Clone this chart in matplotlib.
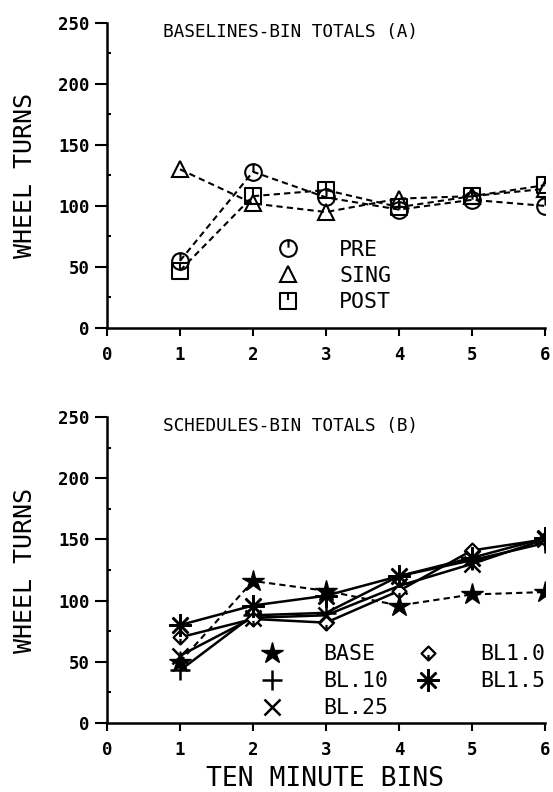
import matplotlib
matplotlib.use('Agg')
import matplotlib.pyplot as plt
from matplotlib.lines import Line2D
from matplotlib.path import Path

# bins
bins = [1, 2, 3, 4, 5, 6]

# panel A - baselines
pre = [55, 128, 107, 97, 105, 100]
sing = [130, 102, 95, 106, 108, 114]
post = [47, 108, 113, 99, 108, 117]

# panel B - schedules
base = [50, 116, 108, 96, 105, 107]
bl10 = [43, 88, 90, 120, 133, 147]
bl25 = [55, 86, 88, 112, 130, 150]
bl10x = [70, 85, 82, 108, 141, 150]
bl15 = [80, 96, 104, 120, 135, 151]

yticks = [0, 50, 100, 150, 200, 250]
xticks = [0, 1, 2, 3, 4, 5, 6]

plt.rcParams['font.family'] = ['DejaVu Sans Mono']

#markers with the little stroke inside, like the plotter symbols
tick_up = Path([[0, 1], [0, 0.1]], [Path.MOVETO, Path.LINETO])
circ = Path.make_compound_path(Path.unit_circle(), tick_up)
sq = Path.make_compound_path(Path.unit_rectangle().transformed(
    matplotlib.transforms.Affine2D().translate(-0.5, -0.5).scale(2)), tick_up)
diam = Path.make_compound_path(
    Path([[0, 1], [1, 0], [0, -1], [-1, 0], [0, 1]],
         [Path.MOVETO, Path.LINETO, Path.LINETO, Path.LINETO, Path.CLOSEPOLY]),
    Path([[0, -1], [0, -0.2]], [Path.MOVETO, Path.LINETO]))
asterisk = (8, 2, 0)

fig = plt.figure(figsize=(5.53, 7.92), dpi=100)
ax1 = fig.add_axes([0.1935, 0.586, 0.792, 0.385])
ax2 = fig.add_axes([0.1935, 0.0871, 0.792, 0.3864])


def style(ax, title):
    ax.set_xlim(0, 6)
    ax.set_ylim(0, 250)
    ax.spines['top'].set_visible(False)
    ax.spines['right'].set_visible(False)
    ax.spines['left'].set_linewidth(1.8)
    ax.spines['bottom'].set_linewidth(1.8)
    ax.set_xticks(xticks)
    ax.set_yticks(yticks)
    ax.set_yticks([25, 75, 125, 175, 225], minor=True)
    ax.tick_params(axis='x', direction='out', length=6, width=1.5, labelsize=12.5, pad=7)
    ax.tick_params(axis='y', which='major', direction='out', length=8.5, width=1.5,
                   labelsize=12.5, pad=4)
    ax.tick_params(axis='y', which='minor', direction='in', length=3, width=1.5)
    for t in ax.get_xticklabels() + ax.get_yticklabels():
        t.set_fontweight('bold')
    ax.set_ylabel('WHEEL TURNS', fontsize=18)
    ax.yaxis.set_label_coords(-0.16, 0.5)
    ax.text(0.128, 0.97, title, transform=ax.transAxes, fontsize=12.8, va='center', ha='left')


# top panel
ms = 12
kw = dict(color='black', ls='--', lw=1.5, ms=ms, mfc='none', mew=1.5, dashes=(3, 2))
ax1.plot(bins, pre, marker=circ, **kw)
ax1.plot(bins, sing, marker='^', **kw)
ax1.plot(bins, post, marker=sq, **kw)
style(ax1, 'BASELINES-BIN TOTALS (A)')
h1 = [Line2D([], [], color='black', ls='none', marker=m, ms=ms, mfc='none', mew=1.5)
      for m in [circ, '^', sq]]
ax1.legend(h1, ['PRE', 'SING', 'POST'], loc='upper left', bbox_to_anchor=(0.388, 0.289),
           frameon=False, fontsize=15.5, handletextpad=1.9, labelspacing=0.29,
           borderpad=0, borderaxespad=0, handlelength=1.0)

# bottom panel
ax2.plot(bins, base, color='black', ls='--', lw=1.5, dashes=(3, 2), marker='*', ms=16,
         mfc='black', mew=1)
ax2.plot(bins, bl10, color='black', ls='-', lw=1.8, marker='+', ms=15, mew=1.8)
ax2.plot(bins, bl25, color='black', ls='-', lw=1.8, marker='x', ms=12, mew=1.8)
ax2.plot(bins, bl10x, color='black', ls='-', lw=1.8, marker=diam, ms=10, mfc='white', mew=1.6)
ax2.plot(bins, bl15, color='black', ls='-', lw=1.8, marker=asterisk, ms=16, mew=1.8)
style(ax2, 'SCHEDULES-BIN TOTALS (B)')
ax2.set_xlabel('TEN MINUTE BINS', fontsize=19, va='center')
ax2.xaxis.set_label_coords(0.498, -0.184)

h2a = [Line2D([], [], color='black', ls='none', marker='*', ms=16, mfc='black'),
       Line2D([], [], color='black', ls='none', marker='+', ms=15, mew=1.8),
       Line2D([], [], color='black', ls='none', marker='x', ms=12, mew=1.8)]
h2b = [Line2D([], [], color='black', ls='none', marker=diam, ms=10, mfc='white', mew=1.6),
       Line2D([], [], color='black', ls='none', marker=asterisk, ms=16, mew=1.8)]
leg2a = ax2.legend(h2a, ['BASE', 'BL.10', 'BL.25'], loc='upper left',
                   bbox_to_anchor=(0.352, 0.258), frameon=False, fontsize=15.5,
                   handletextpad=1.88, labelspacing=0.33, borderpad=0, borderaxespad=0,
                   handlelength=1.0)
ax2.add_artist(leg2a)
ax2.legend(h2b, ['BL1.0', 'BL1.5'], loc='upper left', bbox_to_anchor=(0.708, 0.258),
           frameon=False, fontsize=15.5, handletextpad=1.93, labelspacing=0.33,
           borderpad=0, borderaxespad=0, handlelength=1.0)

fig.savefig('out.png', dpi=100)
